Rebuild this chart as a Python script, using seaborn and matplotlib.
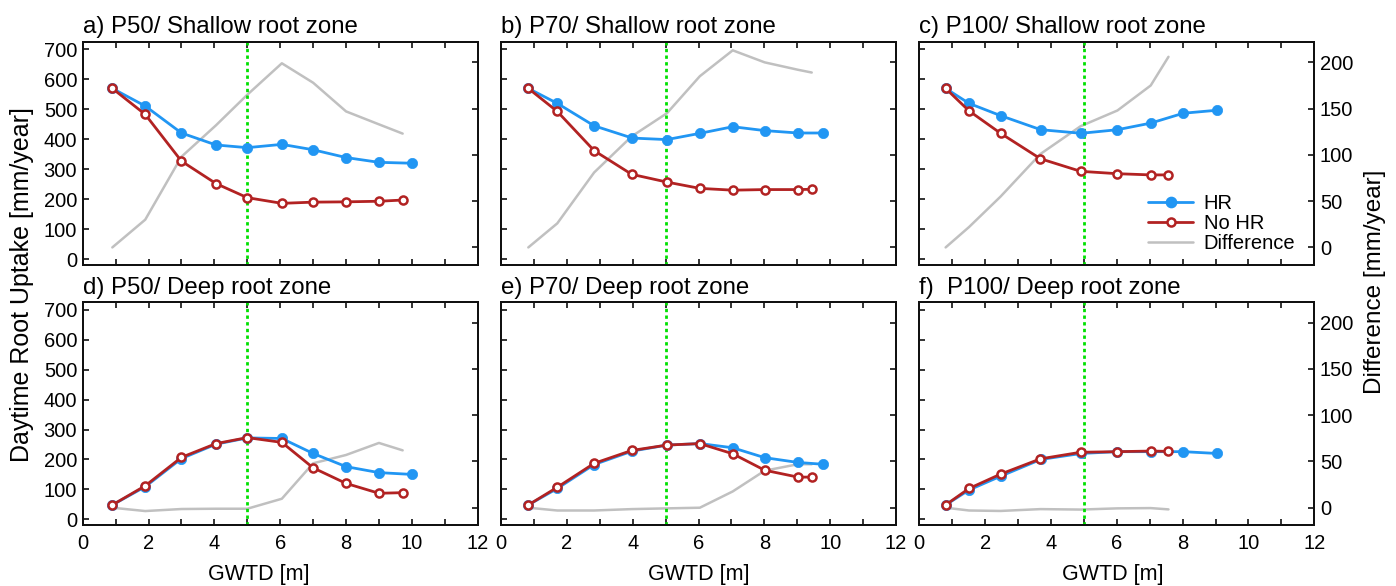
import numpy as np
import pandas as pd
import matplotlib
matplotlib.use("Agg")
import matplotlib.pyplot as plt
from matplotlib.lines import Line2D
from matplotlib.ticker import MultipleLocator
import seaborn as sns

# ---------------- data ----------------
gwtd_p50_hr = [0.9, 1.9, 3.0, 4.05, 5.0, 6.05, 7.0, 8.0, 9.0, 10.0]
gwtd_p50_nohr = [0.9, 1.9, 3.0, 4.05, 5.0, 6.05, 7.0, 8.0, 9.0, 9.72]
gwtd_p70_hr = [0.83, 1.71, 2.83, 3.99, 5.04, 6.05, 7.04, 8.01, 9.02, 9.77]
gwtd_p70_nohr = [0.83, 1.71, 2.83, 3.97, 5.04, 6.04, 7.04, 8.01, 9.02, 9.44]
gwtd_p100_hr = [0.8, 1.51, 2.47, 3.69, 4.92, 6.02, 7.03, 8.02, 9.04]
gwtd_p100_nohr = [0.8, 1.51, 2.47, 3.68, 4.9, 6.02, 7.03, 7.57]

a_hr = [570, 511, 421, 381, 372, 383, 365, 339, 323, 320]
a_nohr = [570, 483, 327, 252, 205, 186, 190, 191, 193, 197]
a_diff = [0, 30, 98, 132, 165, 199, 178, 147, 133, 123]
b_hr = [570, 520, 445, 404, 399, 420, 442, 429, 421, 421]
b_nohr = [570, 493, 362, 283, 257, 236, 230, 232, 232, 233]
b_diff = [0, 26, 81, 120, 145, 185, 213, 200, 192, 189]
c_hr = [570, 520, 479, 432, 420, 432, 454, 487, 497]
c_nohr = [570, 495, 420, 335, 293, 285, 281, 281]
c_diff = [0, 22, 55, 101, 131, 148, 175, 206]
d_hr = [48, 109, 203, 251, 272, 270, 220, 176, 156, 150]
d_nohr = [48, 112, 207, 253, 273, 257, 172, 120, 87, 89]
d_diff = [0, -3.6, -1.4, -1.1, -1.1, 9.7, 48, 57, 70, 62]
e_hr = [48, 103, 183, 228, 248, 253, 239, 206, 190, 184]
e_nohr = [48, 107, 187, 230, 248, 253, 219, 164, 141, 141]
e_diff = [0, -3, -3, -1.5, -0.7, 0, 17.6, 40, 47, 47]
f_hr = [48, 98, 144, 200, 220, 226, 226, 226, 220]
f_nohr = [48, 103, 151, 202, 224, 226, 228, 227]
f_diff = [0, -3, -3.5, -1.5, -2, -0.7, -0.4, -1.8]

titles = ["a) P50/ Shallow root zone", "b) P70/ Shallow root zone", "c) P100/ Shallow root zone",
          "d) P50/ Deep root zone", "e) P70/ Deep root zone", "f)  P100/ Deep root zone"]
legend_labels = ["HR", "No HR", "Difference"]
xlabel = "GWTD [m]"
ylabel_left = "Daytime Root Uptake [mm/year]"
ylabel_right = "Difference [mm/year]"
gwtd_threshold = 5

panels = [
    (gwtd_p50_hr, a_hr, gwtd_p50_nohr, a_nohr, a_diff),
    (gwtd_p70_hr, b_hr, gwtd_p70_nohr, b_nohr, b_diff),
    (gwtd_p100_hr, c_hr, gwtd_p100_nohr, c_nohr, c_diff),
    (gwtd_p50_hr, d_hr, gwtd_p50_nohr, d_nohr, d_diff),
    (gwtd_p70_hr, e_hr, gwtd_p70_nohr, e_nohr, e_diff),
    (gwtd_p100_hr, f_hr, gwtd_p100_nohr, f_nohr, f_diff),
]

# ---------------- style ----------------
sns.set_style("ticks")
plt.rcParams["font.family"] = ["Liberation Sans", "DejaVu Sans"]
plt.rcParams["axes.linewidth"] = 1.4
plt.rcParams["text.color"] = "black"
plt.rcParams["axes.labelcolor"] = "black"

C_HR = "#2196F3"
C_NO = "#B22222"
C_DIFF = "#C0C0C0"
C_GREEN = "#00E000"

W, H = 1396, 586
fig = plt.figure(figsize=(W / 100, H / 100), dpi=100)

col_left = [82.7, 501.0, 919.3]
row_top = [42.0, 302.3]
aw, ah = 395.0, 223.0
xlabel_pos = [0.446, 0.5, 0.49]

TICK_FS = 14.5
for i, (xh, yh, xn, yn, yd) in enumerate(panels):
    r, c = divmod(i, 3)
    ax = fig.add_axes([col_left[c] / W, 1 - (row_top[r] + ah) / H, aw / W, ah / H])
    ax2 = ax.twinx()
    ax.set_zorder(ax2.get_zorder() + 1)
    ax.patch.set_visible(False)

    df_hr = pd.DataFrame({"gwtd": xh, "val": yh})
    df_no = pd.DataFrame({"gwtd": xn, "val": yn})
    df_d = pd.DataFrame({"gwtd": xn, "val": yd})

    sns.lineplot(data=df_d, x="gwtd", y="val", ax=ax2, color=C_DIFF, lw=1.8,
                 estimator=None, sort=False)
    ax.axvline(gwtd_threshold, color=C_GREEN, ls=(0, (1.2, 1.2)), lw=2.0, zorder=1)
    sns.lineplot(data=df_hr, x="gwtd", y="val", ax=ax, color=C_HR, lw=2.0,
                 marker="o", markersize=7.4, markeredgecolor=C_HR, markerfacecolor=C_HR,
                 markeredgewidth=0.5, estimator=None, sort=False, zorder=3)
    sns.lineplot(data=df_no, x="gwtd", y="val", ax=ax, color=C_NO, lw=2.0,
                 marker="o", markersize=5.8, markeredgecolor=C_NO, markerfacecolor="white",
                 markeredgewidth=1.8, estimator=None, sort=False, zorder=4)

    ax.set_xlim(0, 12)
    ax.set_ylim(-20, 725)
    ax2.set_ylim(-19, 222)
    ax.xaxis.set_major_locator(MultipleLocator(2))
    ax.xaxis.set_minor_locator(MultipleLocator(1))
    ax.yaxis.set_major_locator(MultipleLocator(100))
    ax2.yaxis.set_major_locator(MultipleLocator(50))
    ax.tick_params(axis="x", which="both", direction="in", top=True, bottom=True,
                   length=4, width=1.2, labelsize=TICK_FS, pad=6, colors="#111111",
                   labelcolor="black")
    ax.tick_params(axis="y", which="both", direction="in", left=True, right=False,
                   length=4, width=1.2, labelsize=TICK_FS, pad=4, colors="#111111",
                   labelcolor="black")
    ax2.tick_params(axis="y", direction="in", right=True, length=4, width=1.2,
                    labelsize=TICK_FS, pad=4, colors="#111111", labelcolor="black")
    ax.set_ylabel("")
    ax2.set_ylabel("")
    ax.set_xlabel("")
    if c != 0:
        ax.tick_params(axis="y", labelleft=False)
    if c != 2:
        ax2.tick_params(axis="y", labelright=False)
    if r == 0:
        ax.tick_params(axis="x", labelbottom=False)
    else:
        ax.set_xlabel(xlabel, fontsize=15.5)
        ax.xaxis.label.set_va("center")
        ax.xaxis.set_label_coords(xlabel_pos[c], -0.22)
    for sp in list(ax.spines.values()) + list(ax2.spines.values()):
        sp.set_linewidth(1.4)
        sp.set_color("#111111")

    ax.annotate(titles[i], xy=(0, 1), xycoords="axes fraction", xytext=(0, 6.3),
                textcoords="offset points", ha="left", va="baseline", fontsize=17.3)

    if i == 2:
        handles = [
            Line2D([], [], color=C_HR, lw=2.0, marker="o", markersize=7.4,
                   markerfacecolor=C_HR, markeredgecolor=C_HR),
            Line2D([], [], color=C_NO, lw=2.0, marker="o", markersize=5.8,
                   markerfacecolor="white", markeredgecolor=C_NO, markeredgewidth=1.8),
            Line2D([], [], color=C_DIFF, lw=1.8),
        ]
        ax.legend(handles, legend_labels, loc="upper left", bbox_to_anchor=(0.58, 0.32),
                  frameon=False, fontsize=14.5, handlelength=2.2, handletextpad=0.55,
                  labelspacing=0.05, borderpad=0, borderaxespad=0)

fig.text(22 / W, 1 - 285 / H, ylabel_left, rotation=90, ha="center", va="center", fontsize=18)
fig.text(1375 / W, 1 - 282 / H, ylabel_right, rotation=90, ha="center", va="center", fontsize=17.5)

fig.savefig("out.png", dpi=100, facecolor="white")
